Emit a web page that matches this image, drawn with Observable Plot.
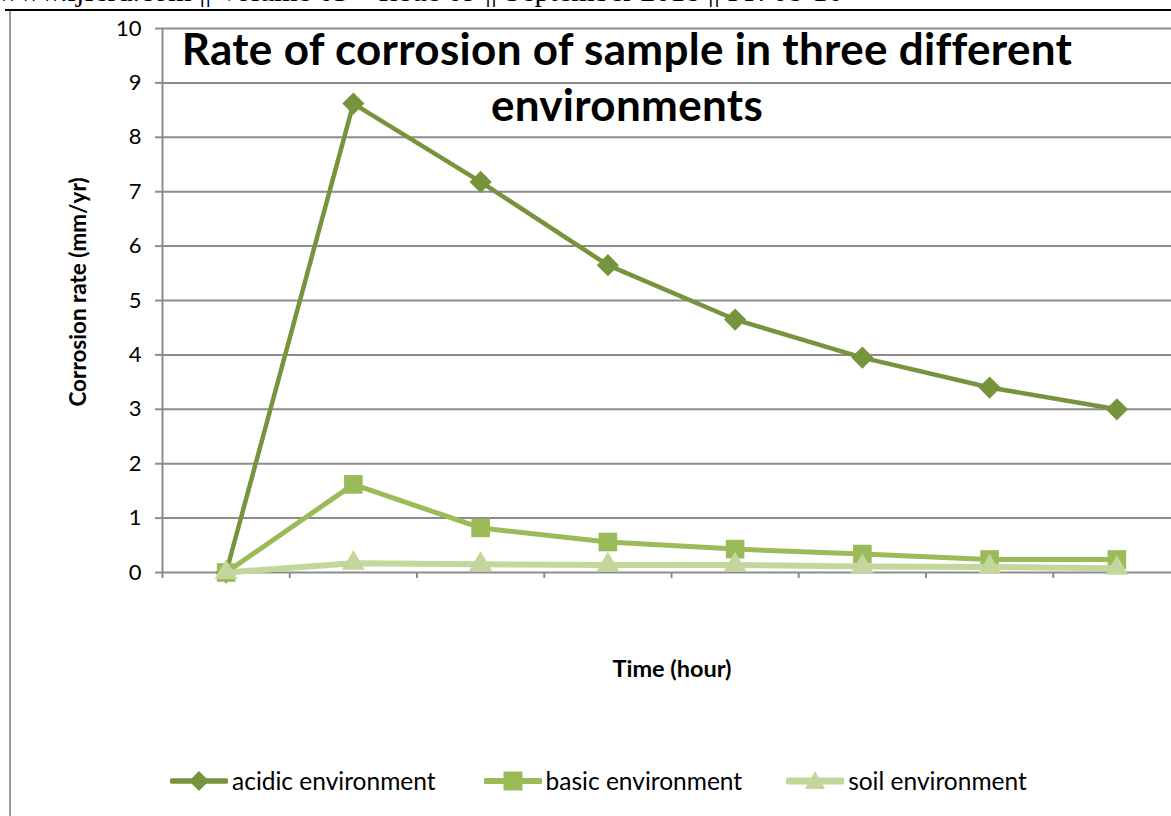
<!DOCTYPE html>
<html>
<head>
<meta charset="utf-8">
<script src="https://cdn.jsdelivr.net/npm/d3@7"></script>
<script src="https://cdn.jsdelivr.net/npm/@observablehq/plot@0.6"></script>
<style>
  html, body { margin: 0; padding: 0; background: #fff; }
  #wrap { position: relative; width: 1171px; height: 816px; overflow: hidden; font-family: Lato, "Open Sans", sans-serif; }
  #header { position: absolute; left: -3px; top: -24px; font-family: "Liberation Serif", "Times New Roman", serif; font-size: 30px; white-space: nowrap; color: #000; line-height: 1; }
  #topline { position: absolute; left: 5px; top: 9px; width: 1166px; height: 2px; background: #000; }
  #leftline { position: absolute; left: 9px; top: 11px; width: 2px; height: 805px; background: #999; }
  #chart { position: absolute; left: 0; top: 0; }
  .title { position: absolute; font-weight: 700; font-size: 44px; color: #000; white-space: nowrap; transform: translate(-50%, -50%); line-height: 1; letter-spacing: 0.3px; }
  #ylabel { position: absolute; left: 77px; top: 292px; font-weight: 700; font-size: 22.5px; white-space: nowrap; transform: translate(-50%, -50%) rotate(-90deg); }
  #xlabel { position: absolute; left: 672px; top: 668px; font-weight: 700; font-size: 23.5px; white-space: nowrap; transform: translate(-50%, -50%); }
  #legend { position: absolute; top: 766px; left: 170px; display: flex; align-items: center; font-size: 24.5px; }
  .item { display: flex; align-items: center; }
  .item svg { margin-right: 4px; }
</style>
</head>
<body>
<div id="wrap">
  <div id="header">www.ijferd.com || Volume 03 – Issue 09 || September 2018 || PP. 08-16</div>
  <div id="topline"></div>
  <div id="leftline"></div>
  <div id="chart"></div>
  <div class="title" style="left:627px; top:48px;">Rate of corrosion of sample in three different</div>
  <div class="title" style="left:627px; top:104px;">environments</div>
  <div id="ylabel">Corrosion rate (mm/yr)</div>
  <div id="xlabel">Time (hour)</div>
  <div id="legend"></div>
</div>
<script>
// Data
const timeIndex = [1, 2, 3, 4, 5, 6, 7, 8];
const seriesNames = ["acidic environment", "basic environment", "soil environment"];
const acidic = [0, 8.62, 7.18, 5.65, 4.65, 3.95, 3.40, 3.00];
const basic  = [0, 1.62, 0.82, 0.56, 0.43, 0.34, 0.24, 0.24];
const soil   = [0, 0.17, 0.15, 0.14, 0.14, 0.11, 0.10, 0.08];
const yTicks = [0, 1, 2, 3, 4, 5, 6, 7, 8, 9, 10];
const colors = ["#77933C", "#9BBB59", "#C3D69B"];
const symbols = ["diamond2", "square", "triangle"];

const allValues = [acidic, basic, soil];
const data = [];
allValues.forEach((vals, s) => vals.forEach((v, i) => data.push({series: seriesNames[s], t: timeIndex[i], v})));

const xBounds = [0.5, ...timeIndex.map(t => t + 0.5)];
const grid = "#8c8c8c";

const lineWidths = [4.5, 5, 6];
const dotR = [10, 10.5, 8.5];

const marks = [
  Plot.ruleY(yTicks.slice(1), {y: d => d, stroke: grid, strokeWidth: 2}),
  Plot.axisY({ticks: yTicks, tickSize: 7, tickPadding: 14, fontSize: 22, stroke: grid, strokeWidth: 2, fill: "#000", label: null}),
  Plot.axisX({ticks: xBounds, tickSize: 6, tickFormat: () => "", stroke: grid, strokeWidth: 2, label: null}),
  Plot.ruleY([0], {stroke: grid, strokeWidth: 2}),
  Plot.ruleX([0.5], {y1: 0, y2: 10, stroke: grid, strokeWidth: 2}),
];
seriesNames.forEach((name, s) => {
  const sub = data.filter(d => d.series === name);
  marks.push(Plot.line(sub, {x: "t", y: "v", stroke: colors[s], strokeWidth: lineWidths[s], strokeLinejoin: "round"}));
  marks.push(Plot.dot(sub, {x: "t", y: "v", symbol: symbols[s], r: dotR[s], fill: colors[s], stroke: "none"}));
});

const chart = Plot.plot({
  width: 1171,
  height: 600,
  marginTop: 28,
  marginBottom: 28,
  marginLeft: 162,
  marginRight: 0,
  style: {fontFamily: "Lato, 'Open Sans', sans-serif", background: "transparent", overflow: "visible"},
  x: {type: "linear", domain: [0.5, 8.5], range: [162, 1180], axis: null},
  y: {domain: [0, 10], axis: null},
  marks
});
document.getElementById("chart").appendChild(chart);

// Legend
const legend = document.getElementById("legend");
const symPaths = {
  "diamond2": "M0,-10L10,0L0,10L-10,0Z",
  "square": "M-9.5,-9.5H9.5V9.5H-9.5Z",
  "triangle": "M0,-10L10,8H-10Z"
};
const itemGaps = ["48px", "44px", "0px"];
seriesNames.forEach((name, s) => {
  const item = document.createElement("div");
  item.className = "item";
  item.style.marginRight = itemGaps[s];
  item.innerHTML = `<svg width="58" height="24" viewBox="-29 -12 58 24"><line x1="-27" x2="27" y1="0" y2="0" stroke="${colors[s]}" stroke-width="${lineWidths[s]+1}" stroke-linecap="round"/><path d="${symPaths[symbols[s]]}" fill="${colors[s]}"/></svg><span>${name}</span>`;
  legend.appendChild(item);
});
</script>
</body>
</html>
